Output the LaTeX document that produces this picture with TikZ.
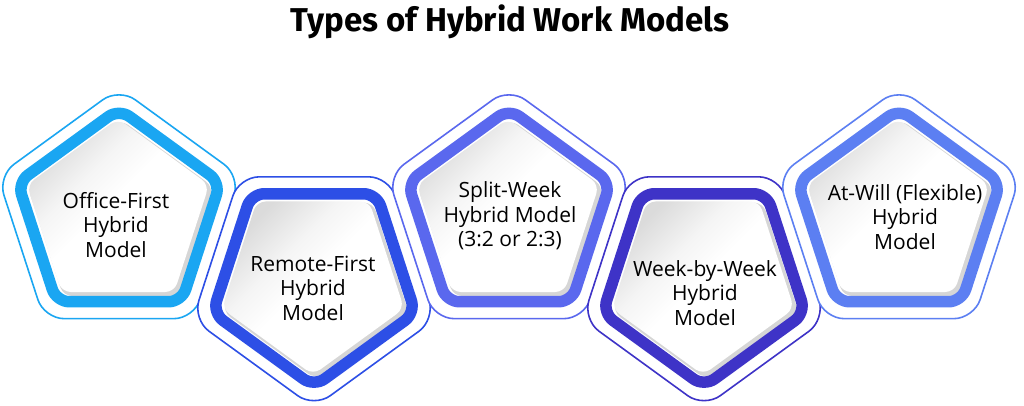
\documentclass[tikz,border=0pt]{standalone}
\usepackage{fontspec}
\setmainfont{Open Sans}
\newfontfamily\titlefont{Fira Sans}
\definecolor{cA}{HTML}{1AA6F2}
\definecolor{cB}{HTML}{2D4FE6}
\definecolor{cC}{HTML}{5A68EE}
\definecolor{cD}{HTML}{3E33C7}
\definecolor{cE}{HTML}{5C7FF2}
\pgfdeclarehorizontalshading{hwinner}{100bp}{color(0bp)=(black!18); color(25bp)=(black!14); color(38bp)=(black!4); color(48bp)=(white); color(100bp)=(white)}
\tikzset{
  pent/.style 2 args={insert path={({#1+180}:{#2*0.809017}) -- ({#1+216}:#2) -- ({#1+288}:#2) -- (#1:#2) -- ({#1+72}:#2) -- ({#1+144}:#2) -- cycle}},
  hwlabel/.style={align=center, font=\fontsize{21}{24.5}\selectfont, text=black, inner sep=0pt},
  hwtitle/.style={font=\titlefont\fontsize{33}{40}\selectfont\bfseries, text=black, inner sep=0pt},
}
\newcommand\hwpent[4]{%
  \begin{scope}[shift={(#1,#2)}]
    \path[fill=white, draw=#4, line width=1.6pt, rounded corners=20pt, pent={#3}{127.5}];
    \path[fill=black!16, rounded corners=9pt, shift={(1.6,-1.6)}, pent={#3}{97.6}];
    \path[shading=hwinner, shading angle=-45, rounded corners=9pt, shift={(-1,1)}, pent={#3}{95.8}];
    \path[draw=#4, line width=11.5pt, rounded corners=13pt, pent={#3}{106.6}];
  \end{scope}}
\begin{document}
\begin{tikzpicture}[x=1pt, y=1pt]
  \useasboundingbox (0,0) rectangle (1024,406);
  \fill[white] (0,0) rectangle (1024,406);
  \node[hwtitle, anchor=base] (title) at (510,374) {Types of Hybrid Work Models};
  \hwpent{119}{190.5}{90}{cA}
  \hwpent{314}{126}{-90}{cB}
  \hwpent{509}{190.5}{90}{cC}
  \hwpent{704}{126}{-90}{cD}
  \hwpent{899}{190.5}{90}{cE}
  \node[hwlabel] (l1) at (116,181.3) {Office-First\\Hybrid\\Model};
  \node[hwlabel] (l2) at (313,118) {Remote-First\\Hybrid\\Model};
  \node[hwlabel] (l3) at (510,190.3) {Split-Week\\Hybrid Model\\(3:2 or 2:3)};
  \node[hwlabel] (l4) at (705,113.3) {Week-by-Week\\Hybrid\\Model};
  \node[hwlabel] (l5) at (905,189) {At-Will (Flexible)\\Hybrid\\Model};
\end{tikzpicture}
\end{document}
